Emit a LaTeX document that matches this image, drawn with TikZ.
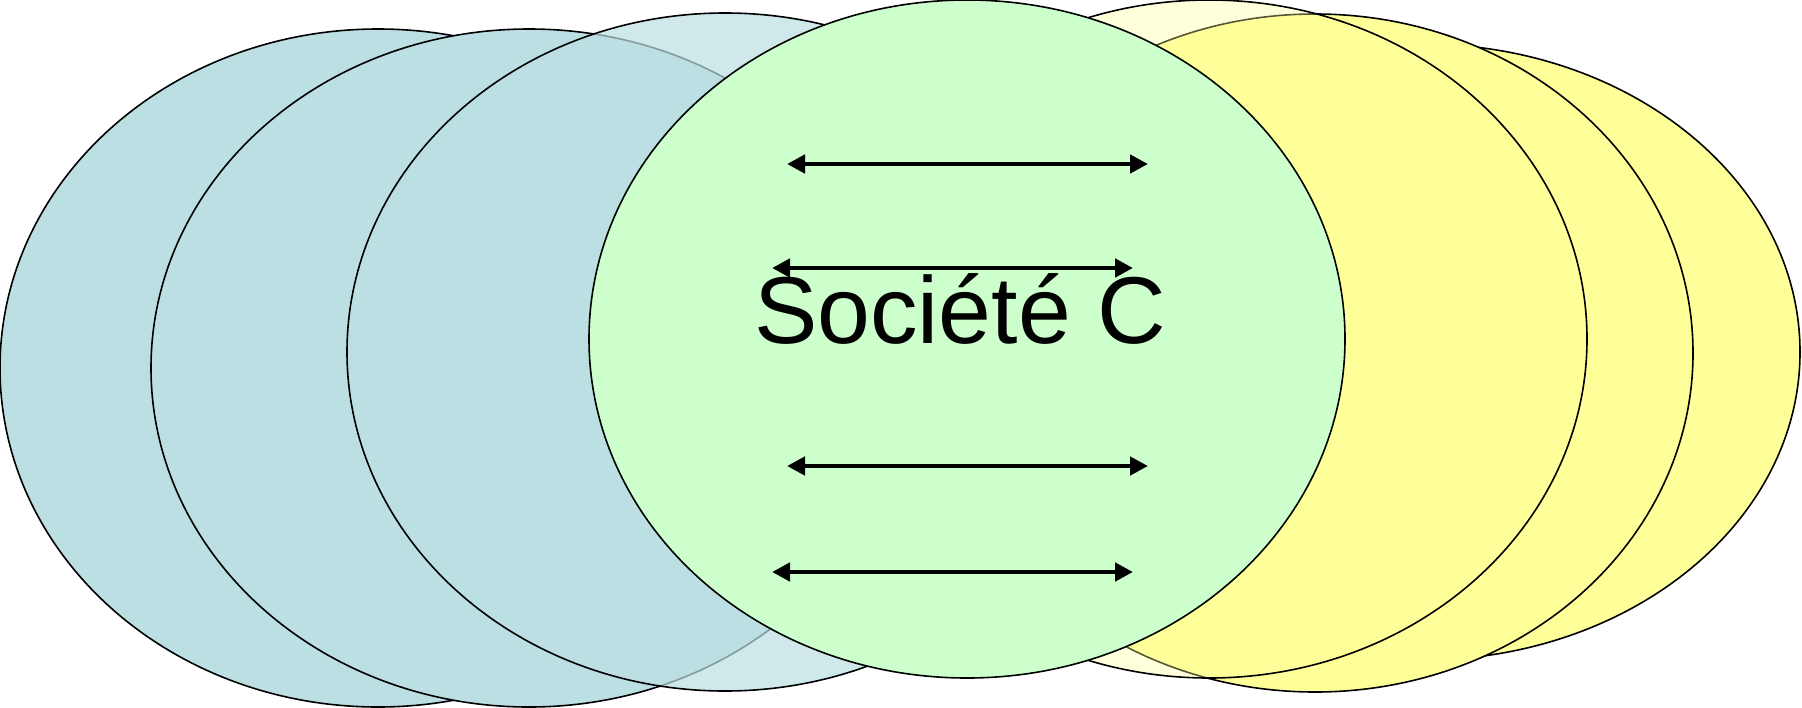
\documentclass[tikz,border=0pt]{standalone}
\usepackage{fontspec}
\setmainfont{Liberation Sans}
\usetikzlibrary{arrows.meta}
\usetikzlibrary{shapes.geometric}

\definecolor{tealFill}{HTML}{BBDFE2}
\definecolor{greenFill}{HTML}{CCFFCC}
\definecolor{yellowFill}{HTML}{FFFF99}

\begin{document}
\begin{tikzpicture}[x = 0.5pt, y = -0.5pt]
\tikzstyle{ovalStyle} = [shape = ellipse, draw = black, line width = 0.8pt, minimum width = 378pt, minimum height = 339pt, inner sep = 0pt]
\tikzstyle{tealStyle} = [ovalStyle, fill = tealFill]
\tikzstyle{yellowStyle} = [ovalStyle, fill = yellowFill]
\tikzstyle{greenStyle} = [ovalStyle, fill = greenFill]
\tikzstyle{linkStyle} = [line width = 2.25pt, {Triangle[length = 9pt, width = 9pt]}-{Triangle[length = 9pt, width = 9pt]}]
\useasboundingbox (0, 0) rectangle (1802, 707);
% left group
\node[tealStyle] (t1) at (378, 368) {};
\node[tealStyle] (t2) at (529, 368) {};
\node[tealStyle, fill opacity = 0.7] (t3) at (725, 352) {};
% right group
\node[yellowStyle, minimum height = 308pt] (y3) at (1422, 352) {};
\node[yellowStyle] (y2) at (1315, 353) {};
\node[yellowStyle, fill opacity = 0.34] (y1) at (1209, 339) {};
% middle
\node[greenStyle] (c) at (967, 339) {};
\coordinate (l1) at (787, 164);
\coordinate (r1) at (1148, 164);
\coordinate (l2) at (772, 268);
\coordinate (r2) at (1133, 268);
\coordinate (l3) at (787, 466);
\coordinate (r3) at (1148, 466);
\coordinate (l4) at (772, 572);
\coordinate (r4) at (1133, 572);
\node[anchor = base, inner sep = 0pt, font = \fontsize{47.5}{50}\selectfont] (name) at (960, 343) {Société C};
\draw[linkStyle] (l1) -- (r1);
\draw[linkStyle] (l2) -- (r2);
\draw[linkStyle] (l3) -- (r3);
\draw[linkStyle] (l4) -- (r4);
\end{tikzpicture}
\end{document}
